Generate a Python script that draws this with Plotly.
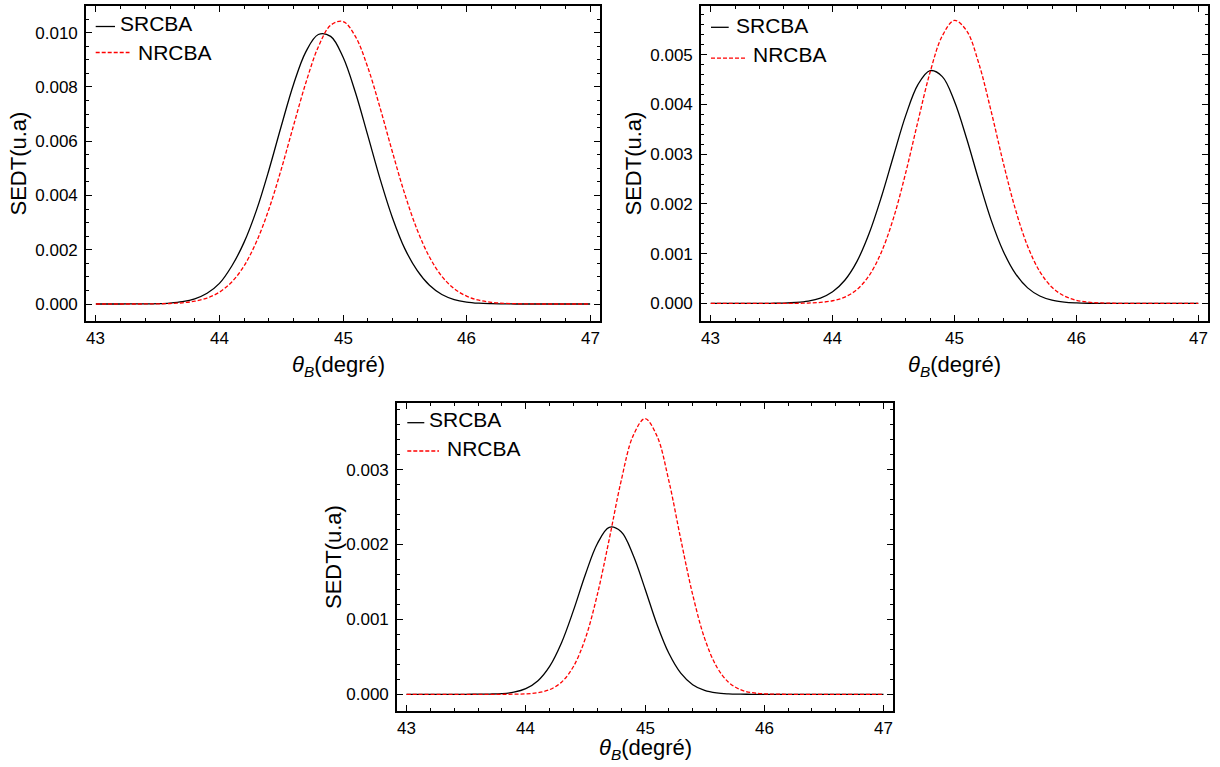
import plotly.graph_objects as go

# Bragg angle grid (degrees)
theta = [43.0, 43.1, 43.2, 43.3, 43.4, 43.5, 43.6, 43.7, 43.8, 43.9,
         44.0, 44.1, 44.2, 44.3, 44.4, 44.5, 44.6, 44.7, 44.8, 44.9,
         45.0, 45.1, 45.2, 45.3, 45.4, 45.5, 45.6, 45.7, 45.8, 45.9,
         46.0, 46.1, 46.2, 46.3, 46.4, 46.5, 46.6, 46.7, 46.8, 46.9, 47.0]

# Panel 1 (top left)
srcba_1 = [0.0, 0.0, 0.000001, 0.000002, 0.000005, 0.000014, 0.000036, 0.000087, 0.000192, 0.000396,
           0.000759, 0.00140, 0.00228, 0.00346, 0.00493, 0.00655, 0.00810, 0.00930, 0.00993, 0.00986,
           0.00910, 0.00780, 0.00622, 0.00461, 0.00318, 0.00204, 0.00124, 0.000690, 0.000350, 0.000165,
           0.000073, 0.000030, 0.000012, 0.000004, 0.000001, 0.0, 0.0, 0.0, 0.0, 0.0, 0.0]
nrcba_1 = [0.0, 0.0, 0.0, 0.000001, 0.000002, 0.000007, 0.000019, 0.000045, 0.000103, 0.000220,
           0.000437, 0.000812, 0.00141, 0.00230, 0.00349, 0.00496, 0.00658, 0.00816, 0.00947, 0.01027,
           0.01041, 0.00986, 0.00873, 0.00723, 0.00560, 0.00405, 0.00274, 0.00173, 0.00102, 0.000565,
           0.000291, 0.000141, 0.000064, 0.000027, 0.000011, 0.000004, 0.000001, 0.0, 0.0, 0.0, 0.0]

# Panel 2 (top right)
srcba_2 = [0.0, 0.0, 0.0, 0.0, 0.0, 0.000002, 0.000006, 0.000018, 0.000046, 0.000108,
           0.000234, 0.000466, 0.000846, 0.00141, 0.00214, 0.00297, 0.00378, 0.00440, 0.00468, 0.00456,
           0.00406, 0.00331, 0.00247, 0.00168, 0.00105, 0.000598, 0.000312, 0.000149, 0.000065, 0.000026,
           0.000010, 0.000003, 0.0, 0.0, 0.0, 0.0, 0.0, 0.0, 0.0, 0.0, 0.0]
nrcba_2 = [0.0, 0.0, 0.0, 0.0, 0.0, 0.0, 0.0, 0.000002, 0.000007, 0.000020,
           0.000053, 0.000127, 0.000280, 0.000562, 0.00103, 0.00172, 0.00263, 0.00366, 0.00465, 0.00538,
           0.00569, 0.00548, 0.00482, 0.00387, 0.00283, 0.00189, 0.00115, 0.000640, 0.000324, 0.000150,
           0.000063, 0.000024, 0.000009, 0.000003, 0.0, 0.0, 0.0, 0.0, 0.0, 0.0, 0.0]

# Panel 3 (bottom)
srcba_3 = [0.0, 0.0, 0.0, 0.0, 0.0, 0.0, 0.000001, 0.000003, 0.000009, 0.000028,
           0.000075, 0.000178, 0.000373, 0.000689, 0.00112, 0.00160, 0.00201, 0.00223, 0.00217, 0.00186,
           0.00141, 0.000936, 0.000547, 0.000282, 0.000128, 0.000051, 0.000018, 0.000006, 0.000002, 0.0,
           0.0, 0.0, 0.0, 0.0, 0.0, 0.0, 0.0, 0.0, 0.0, 0.0, 0.0]
nrcba_3 = [0.0, 0.0, 0.0, 0.0, 0.0, 0.0, 0.0, 0.0, 0.0, 0.000002,
           0.000006, 0.000021, 0.000062, 0.000162, 0.000371, 0.000747, 0.00133, 0.00207, 0.00285, 0.00345,
           0.00368, 0.00345, 0.00285, 0.00207, 0.00133, 0.000747, 0.000371, 0.000162, 0.000062, 0.000021,
           0.000006, 0.000002, 0.0, 0.0, 0.0, 0.0, 0.0, 0.0, 0.0, 0.0, 0.0]

series_names = ["SRCBA", "NRCBA"]
x_title = "<i>θ</i><sub><i>B</i></sub>(degré)"
y_title = "SEDT(u.a)"
x_ticks = [43, 44, 45, 46, 47]

W, H = 1220, 767
FONT = "Liberation Sans, Arial, Helvetica, sans-serif"


def px(x):
    return x / W


def py(y):
    return 1 - y / H


def minor_between(major, parts):
    """Minor tick positions strictly between consecutive major ticks."""
    out = []
    for a, b in zip(major[:-1], major[1:]):
        step = (b - a) / parts
        out += [round(a + k * step, 6) for k in range(1, parts)]
    return out


x_minor = minor_between(x_ticks, 5)

# frame boxes in pixels: left, right, top, bottom
panels = [
    dict(box=(86, 600, 6, 321), yr=[-0.000626, 0.01098],
         yt=[0.0, 0.002, 0.004, 0.006, 0.008, 0.010, 0.012], parts=4,
         data=(srcba_1, nrcba_1), ytx=18, xty=366, xtx=338,
         leg=dict(sl=(95.7, 115, 26.5), st=(119, 24), nl=(95.7, 129.5, 52.5), nt=(136.7, 52.5))),
    dict(box=(701, 1208, 6, 321), yr=[-0.000354, 0.00598],
         yt=[0.0, 0.001, 0.002, 0.003, 0.004, 0.005, 0.006], parts=5,
         data=(srcba_2, nrcba_2), ytx=633, xty=366, xtx=954,
         leg=dict(sl=(711, 728.7, 27.3), st=(735, 25), nl=(711, 745.7, 58.2), nt=(752.3, 54.5))),
    dict(box=(397, 893, 403, 711), yr=[-0.000223, 0.003889],
         yt=[0.0, 0.001, 0.002, 0.003, 0.004], parts=5,
         data=(srcba_3, nrcba_3), ytx=333, xty=749, xtx=645,
         leg=dict(sl=(407.3, 424.3, 422.7), st=(428.3, 419.5), nl=(407.3, 439, 451), nt=(445.7, 448.7))),
]

fig = go.Figure()
layout = dict(width=W, height=H, autosize=False,
              margin=dict(l=0, r=0, t=0, b=0),
              paper_bgcolor="white", plot_bgcolor="white",
              showlegend=False, shapes=[], annotations=[])

for i, p in enumerate(panels, start=1):
    L, R, T, B = p["box"]
    xa = "x" if i == 1 else f"x{i}"
    ya = "y" if i == 1 else f"y{i}"
    s_vals, n_vals = p["data"]
    fig.add_trace(go.Scatter(x=theta, y=s_vals, mode="lines", name=series_names[0],
                             line=dict(color="black", width=1.3, shape="spline", smoothing=1.0),
                             xaxis=xa, yaxis=ya, hoverinfo="skip"))
    fig.add_trace(go.Scatter(x=theta, y=n_vals, mode="lines", name=series_names[1],
                             line=dict(color="#ff0000", width=1.3, dash="4px,2px",
                                       shape="spline", smoothing=1.0),
                             xaxis=xa, yaxis=ya, hoverinfo="skip"))

    common = dict(showline=True, linecolor="black", linewidth=1.6, mirror="allticks",
                  ticks="inside", ticklen=6, tickwidth=1, tickcolor="black",
                  showgrid=False, zeroline=False, ticklabeloverflow="allow",
                  tickfont=dict(family=FONT, size=17, color="black"))
    minor_common = dict(ticks="inside", ticklen=3.5, tickwidth=1, tickcolor="black",
                        showgrid=False)
    # x tick labels are written as annotations anchored to the tick values below
    layout["xaxis" if i == 1 else f"xaxis{i}"] = dict(
        common, domain=[px(L), px(R)], range=[42.92, 47.08], anchor=ya,
        tickmode="array", tickvals=x_ticks, showticklabels=False,
        minor=dict(minor_common, tickmode="array", tickvals=x_minor))
    layout["yaxis" if i == 1 else f"yaxis{i}"] = dict(
        common, domain=[py(B), py(T)], range=p["yr"], anchor=xa,
        tickmode="array", tickvals=p["yt"], ticktext=[f"{v:.3f}" for v in p["yt"]],
        ticklabelstandoff=3,
        minor=dict(minor_common, tickmode="array", tickvals=minor_between(p["yt"], p["parts"])))

    for t in x_ticks:
        layout["annotations"].append(dict(
            text=str(t), xref=xa, yref="paper", x=t, y=py(B + 6),
            xanchor="center", yanchor="top", showarrow=False,
            font=dict(family=FONT, size=17, color="black")))

    # axis titles
    layout["annotations"].append(dict(
        text=x_title, xref="paper", yref="paper", x=px(p["xtx"]), y=py(p["xty"]),
        xanchor="center", yanchor="middle", showarrow=False,
        font=dict(family=FONT, size=22, color="black")))
    layout["annotations"].append(dict(
        text=y_title, xref="paper", yref="paper", x=px(p["ytx"]), y=py((T + B) / 2),
        xanchor="center", yanchor="middle", textangle=-90, showarrow=False,
        font=dict(family=FONT, size=22, color="black")))

    # in-frame legend
    lg = p["leg"]
    x0, x1, yl = lg["sl"]
    layout["shapes"].append(dict(type="line", xref="paper", yref="paper",
                                 x0=px(x0), x1=px(x1), y0=py(yl), y1=py(yl),
                                 line=dict(color="black", width=1.3)))
    x0, x1, yl = lg["nl"]
    layout["shapes"].append(dict(type="line", xref="paper", yref="paper",
                                 x0=px(x0), x1=px(x1), y0=py(yl), y1=py(yl),
                                 line=dict(color="#ff0000", width=1.3, dash="4px,2px")))
    for key, name in (("st", series_names[0]), ("nt", series_names[1])):
        tx, ty = lg[key]
        layout["annotations"].append(dict(
            text=name, xref="paper", yref="paper", x=px(tx), y=py(ty),
            xanchor="left", yanchor="middle", showarrow=False, borderpad=0,
            font=dict(family=FONT, size=21, color="black")))

fig.update_layout(**layout)
fig.write_html("out.html")
